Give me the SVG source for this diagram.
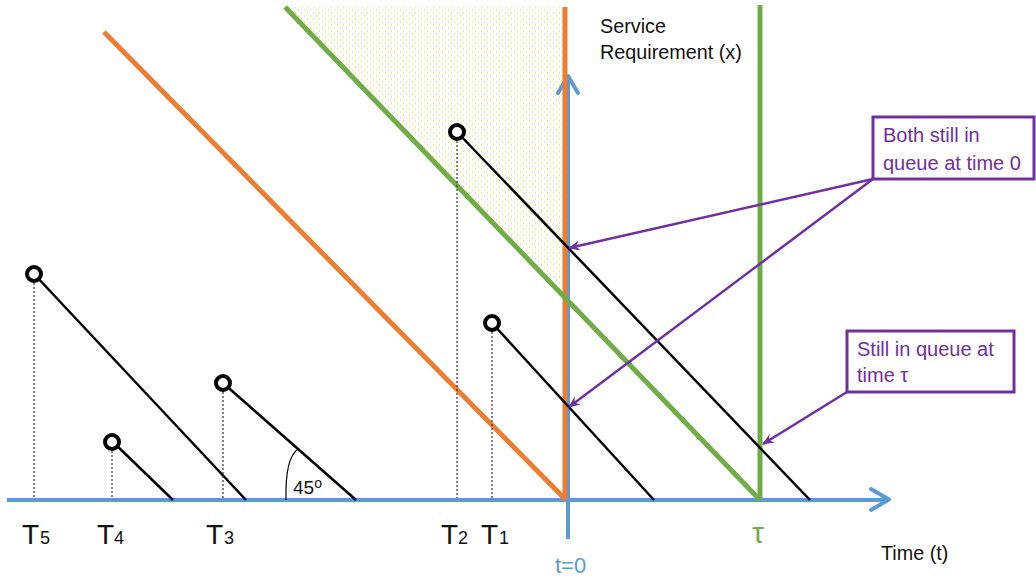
<svg xmlns="http://www.w3.org/2000/svg" width="1036" height="579" viewBox="0 0 1036 579">
  <defs>
    <pattern id="dots" width="6" height="6" patternUnits="userSpaceOnUse">
      <rect x="1" y="0" width="1" height="2" fill="#FFD966" opacity="0.8"/>
      <rect x="4" y="3" width="1" height="2" fill="#FFD966" opacity="0.8"/>
    </pattern>
    <marker id="pa" viewBox="0 0 12 10" refX="11" refY="5" markerWidth="12" markerHeight="10" markerUnits="userSpaceOnUse" orient="auto">
      <path d="M0,0 L12,5 L0,10 L4,5 z" fill="#7030A0"/>
    </marker>
  </defs>
  <style>
    .ax { stroke:#5B9BD5; stroke-width:4; fill:none; }
    .axh { stroke:#5B9BD5; stroke-width:4; fill:none; stroke-linecap:round; stroke-linejoin:round; }
    .or { stroke:#ED7D31; stroke-width:5; fill:none; }
    .gr { stroke:#70AD47; stroke-width:5; fill:none; }
    .job { stroke:#000; stroke-width:2.5; fill:none; }
    .drop { stroke:#333; stroke-width:1.2; stroke-dasharray:2,2; fill:none; }
    .pt { stroke:#000; stroke-width:4; fill:#fff; }
    .t { font-family:"Liberation Sans", Arial, sans-serif; fill:#111; }
    .big { font-size:28px; }
    .sub { font-size:18px; }
    .lab { font-family:"Liberation Sans", Arial, sans-serif; font-size:19.8px; fill:#111; }
    .pl { font-family:"Liberation Sans", Arial, sans-serif; font-size:20px; fill:#7030A0; }
    .box { fill:#fff; stroke:#7030A0; stroke-width:3; }
    .ptr { stroke:#7030A0; stroke-width:2.5; fill:none; marker-end:url(#pa); }
  </style>

  <g id="shaded-region">
    <polygon points="285,7 563,7 563,298" fill="url(#dots)"/>
  </g>

  <g id="axes">
    <line class="ax" x1="568" y1="539" x2="568" y2="78"/>
    <polyline class="axh" points="558,93 568,76 578,93"/>
    <line class="ax" x1="7" y1="500" x2="887" y2="500"/>
    <polyline class="axh" points="871,489 889,499.5 871,510"/>
  </g>

  <g id="boundaries">
    <line class="or" x1="104" y1="32" x2="565" y2="499"/>
    <line class="or" x1="565" y1="7" x2="565" y2="500"/>
    <line class="gr" x1="285" y1="7" x2="759" y2="499"/>
    <line class="gr" x1="760" y1="5" x2="760" y2="500"/>
  </g>

  <g id="job5">
    <line class="drop" x1="34" y1="283" x2="34" y2="498"/>
    <line class="job" x1="35" y1="275" x2="246" y2="500"/>
    <circle class="pt" cx="34" cy="274" r="7"/>
  </g>
  <g id="job4">
    <line class="drop" x1="112" y1="451" x2="112" y2="498"/>
    <line class="job" x1="113" y1="442" x2="173" y2="500"/>
    <circle class="pt" cx="112" cy="442" r="7"/>
  </g>
  <g id="job3">
    <line class="drop" x1="223" y1="392" x2="223" y2="498"/>
    <line class="job" x1="223" y1="383" x2="356" y2="500"/>
    <circle class="pt" cx="223" cy="383" r="7"/>
    <path d="M286,500 Q285,458 298,449" fill="none" stroke="#000" stroke-width="1.2"/>
    <text class="t" x="293" y="494" font-size="19">45<tspan dy="-6" font-size="14">o</tspan></text>
  </g>
  <g id="job2">
    <line class="drop" x1="457" y1="141" x2="457" y2="498"/>
    <line class="job" x1="457" y1="132" x2="810" y2="500"/>
    <circle class="pt" cx="457" cy="132" r="7"/>
  </g>
  <g id="job1">
    <line class="drop" x1="492" y1="332" x2="492" y2="498"/>
    <line class="job" x1="492" y1="323" x2="654" y2="500"/>
    <circle class="pt" cx="492" cy="323" r="7"/>
  </g>

  <g id="labels">
    <text class="t big" x="22" y="544">T<tspan class="sub" x="40">5</tspan></text>
    <text class="t big" x="97" y="544">T<tspan class="sub" x="114">4</tspan></text>
    <text class="t big" x="206" y="544">T<tspan class="sub" x="224">3</tspan></text>
    <text class="t big" x="441" y="544">T<tspan class="sub" x="458">2</tspan></text>
    <text class="t big" x="481" y="544">T<tspan class="sub" x="499">1</tspan></text>
    <text x="555" y="573" font-family="Liberation Sans, Arial, sans-serif" font-size="22" fill="#5B9BD5">t=0</text>
    <text x="752" y="543" font-family="Liberation Sans, Arial, sans-serif" font-size="30" fill="#70AD47">τ</text>
    <text class="lab" x="881" y="560">Time (t)</text>
    <text class="lab" x="600" y="33">Service</text>
    <text class="lab" x="600" y="59">Requirement (x)</text>
  </g>

  <g id="callout-time0">
    <rect class="box" x="873" y="117" width="161" height="62"/>
    <text class="pl" x="883" y="142">Both still in</text>
    <text class="pl" x="883" y="170">queue at time 0</text>
  </g>
  <g id="callout-tau">
    <rect class="box" x="847" y="331" width="167" height="61"/>
    <text class="pl" x="857" y="356">Still in queue at</text>
    <text class="pl" x="857" y="382">time τ</text>
  </g>

  <g id="connectors">
    <line class="ptr" x1="873" y1="179" x2="569" y2="248"/>
    <line class="ptr" x1="873" y1="179" x2="569" y2="407"/>
    <line class="ptr" x1="847" y1="392" x2="763" y2="444"/>
  </g>
</svg>
